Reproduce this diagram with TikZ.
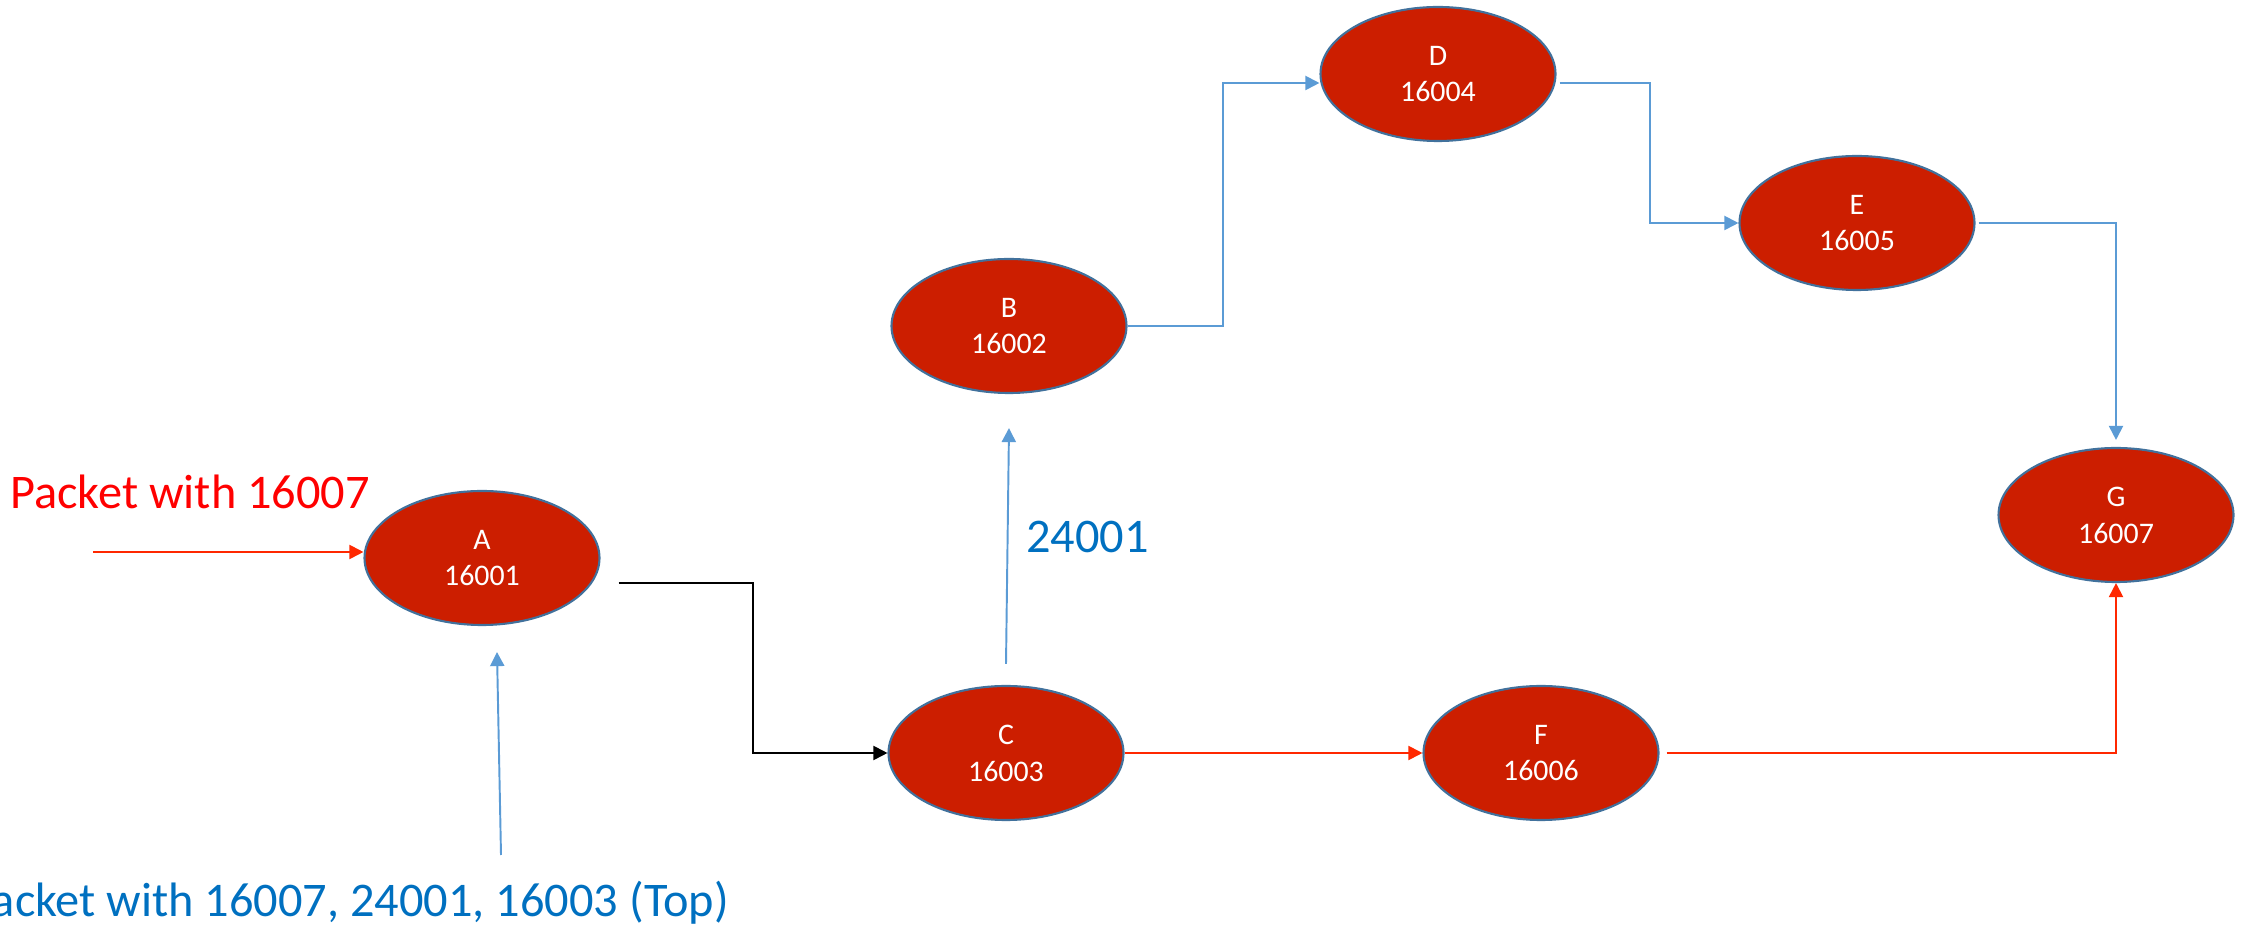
\documentclass[tikz,border=0pt]{standalone}
\usepackage{fontspec}
\setmainfont{Carlito}
\usetikzlibrary{shapes.geometric,arrows.meta}

\definecolor{routerred}{RGB}{204,30,0}
\definecolor{routerrim}{RGB}{65,113,156}
\definecolor{pathblue}{RGB}{91,155,213}
\definecolor{pathred}{RGB}{255,40,0}
\definecolor{labelblue}{RGB}{0,112,192}
\definecolor{labelred}{RGB}{255,0,0}

\tikzstyle{router}=[ellipse,draw=routerrim,fill=routerred,line width=1.2pt,minimum width=4.7cm,minimum height=2.68cm,inner sep=0pt,text=white,align=center,font=\fontsize{17}{21}\selectfont]
\tikzstyle{hop}=[line width=1.1pt,-{Triangle[length=8pt,width=8pt]}]
\tikzstyle{bluehop}=[hop,draw=pathblue]
\tikzstyle{redhop}=[hop,draw=pathred]
\tikzstyle{blackhop}=[hop,draw=black]
\tikzstyle{biglabel}=[inner sep=0pt,font=\fontsize{27.5}{33}\selectfont]

\begin{document}
\begin{tikzpicture}
\useasboundingbox (0,0) rectangle (44.82,18.5);

% routers
\node[router] (A) at (9.64,7.34) {A\\16001};
\node[router] (B) at (20.18,11.98) {B\\16002};
\node[router] (C) at (20.12,3.44) {C\\16003};
\node[router] (D) at (28.76,17.02) {D\\16004};
\node[router] (E) at (37.14,14.04) {E\\16005};
\node[router] (F) at (30.82,3.44) {F\\16006};
\node[router] (G) at (42.32,8.2) {G\\16007};

% incoming packets
\coordinate (redin) at (1.86,7.46);
\coordinate (bluein) at (10.02,1.40);
\node[biglabel,text=labelred,anchor=base west] (redpkt) at (0.2,8.32) {Packet with 16007};
\node[biglabel,text=labelblue,anchor=base east] (bluepkt) at (14.58,0.18) {Packet with 16007, 24001, 16003 (Top)};

\draw[redhop] (redin) -- (redin -| A.west);
\draw[bluehop] (bluein) -- ([shift={(0.3,-0.52)}]A.south);

% A to C
\draw[blackhop] ([shift={(0.36,-0.5)}]A.east) -- ++(2.68,0) |- (C.west);

% blue path C - B - D - E - G
\draw[bluehop] ([yshift=0.42cm]C.north) -- ([yshift=-0.68cm]B.south)
  node[biglabel,text=labelblue,pos=0.54,right=0.35cm] (label-24001) {24001};
\draw[bluehop] (B.east) -- ++(1.9,0) |- ([yshift=-0.18cm]D.west);
\draw[bluehop] ([shift={(0.06,-0.18)}]D.east) -- ++(1.8,0) |- (E.west);
\draw[bluehop] ([xshift=0.06cm]E.east) -| ([yshift=0.14cm]G.north);

% red path C - F - G
\draw[redhop] (C.east) -- (F.west);
\draw[redhop] ([xshift=0.14cm]F.east) -| (G.south);

\end{tikzpicture}
\end{document}
